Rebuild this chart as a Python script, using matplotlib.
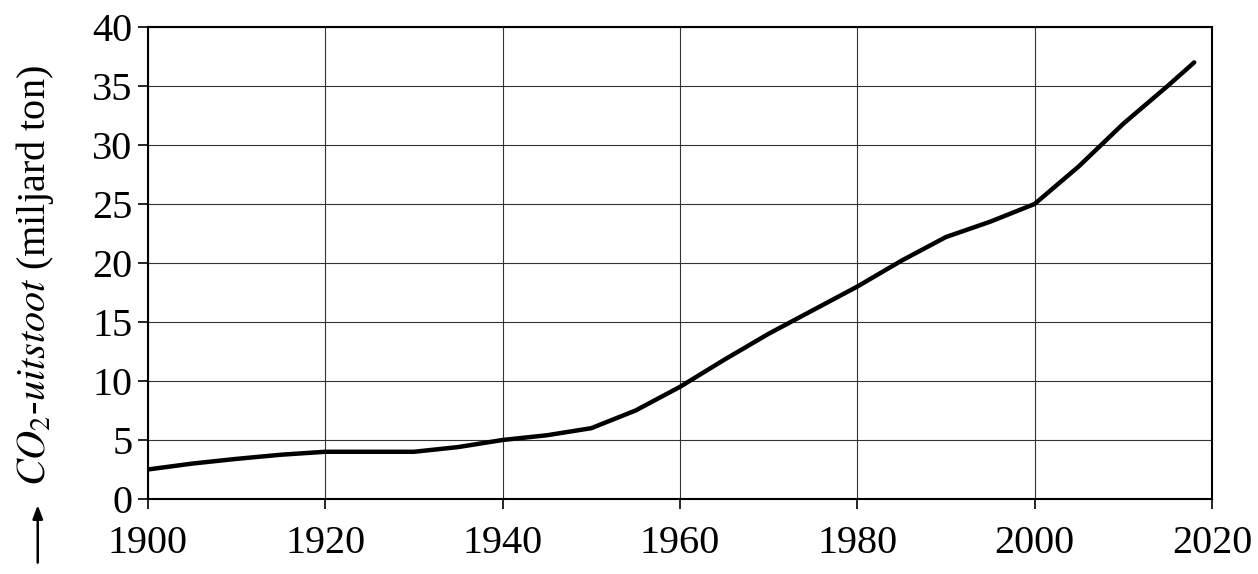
import matplotlib
matplotlib.use("Agg")
import matplotlib.pyplot as plt

plt.rcParams["font.family"] = ["Liberation Serif", "DejaVu Serif"]
plt.rcParams["mathtext.fontset"] = "stix"

years = [1900, 1905, 1910, 1915, 1920, 1925, 1930, 1935, 1940, 1945, 1950,
         1955, 1960, 1965, 1970, 1975, 1980, 1985, 1990, 1995, 2000, 2005,
         2010, 2015, 2018]
co2 = [2.5, 3.0, 3.4, 3.75, 4.0, 4.0, 4.0, 4.4, 5.0, 5.4, 6.0,
       7.5, 9.5, 11.8, 14.0, 16.0, 18.0, 20.2, 22.2, 23.5, 25.0, 28.2,
       31.8, 35.0, 37.0]

fig = plt.figure(figsize=(12.58, 5.74), dpi=100)
ax = fig.add_axes([0.1176, 0.1307, 0.8458, 0.8223])
ax.plot(years, co2, color="black", lw=3.2, solid_capstyle="round",
        solid_joinstyle="round")

ax.set_xlim(1900, 2020)
ax.set_ylim(0, 40)
ax.set_xticks(range(1900, 2021, 20))
ax.set_yticks(range(0, 41, 5))
ax.grid(True, color="#333333", lw=0.8)
ax.tick_params(axis="x", labelsize=29, length=7, width=1.2, pad=12)
ax.tick_params(axis="y", labelsize=29, length=7, width=1.2, pad=4)
for s in ax.spines.values():
    s.set_linewidth(1.5)

fig.text(0.028, 0.52, r"$CO_2$-$uitstoot$ (miljard ton)", rotation=90,
         fontsize=29, ha="center", va="center")
ax.annotate("", xy=(0.03, 0.125), xytext=(0.03, 0.015),
            xycoords="figure fraction", textcoords="figure fraction",
            arrowprops=dict(arrowstyle="-|>,head_length=0.8,head_width=0.3",
                            color="black", lw=1.8), annotation_clip=False)

fig.savefig("out.png", dpi=100)
